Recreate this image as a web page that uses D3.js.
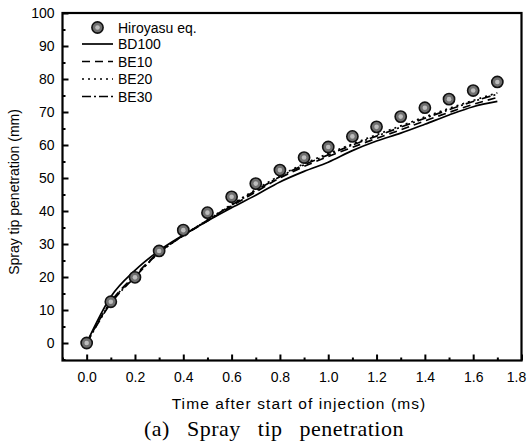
<!DOCTYPE html>
<html>
<head>
<meta charset="utf-8">
<script src="https://cdn.jsdelivr.net/npm/d3@7"></script>
<style>
  html, body { margin: 0; padding: 0; background: #fff; }
  svg { display: block; }
  text { font-family: Arial, "Liberation Sans", sans-serif; fill: #000; }
</style>
</head>
<body>
<svg id="chart" width="529" height="443"></svg>
<script>
// Time after start of injection (ms)
const times = [0, 0.1, 0.2, 0.3, 0.4, 0.5, 0.6, 0.7, 0.8, 0.9, 1.0, 1.1, 1.2, 1.3, 1.4, 1.5, 1.6, 1.7];

// Spray tip penetration (mm)
const hiroyasu = [0, 12.5, 19.9, 27.9, 34.2, 39.5, 44.3, 48.3, 52.4, 56.2, 59.4, 62.6, 65.5, 68.6, 71.3, 73.9, 76.5, 79.1];
const bd100    = [0, 14.0, 22.0, 28.0, 32.7, 37.0, 41.0, 44.8, 48.8, 52.0, 54.8, 58.3, 61.2, 63.6, 66.3, 69.1, 71.6, 73.2];
const be10     = [0, 12.5, 20.5, 27.5, 32.5, 37.0, 41.5, 45.8, 50.0, 53.5, 56.5, 59.3, 62.0, 64.6, 67.3, 69.9, 72.3, 74.4];
const be20     = [0, 12.3, 20.2, 27.3, 32.6, 37.3, 42.0, 46.5, 50.7, 54.3, 57.4, 60.3, 63.1, 65.8, 68.5, 71.1, 73.5, 75.8];
const be30     = [0, 12.0, 20.0, 27.4, 32.6, 37.2, 41.8, 46.2, 50.4, 54.0, 57.0, 60.0, 62.7, 65.4, 68.1, 70.7, 73.2, 75.4];

const xTicks = [0, 0.2, 0.4, 0.6, 0.8, 1.0, 1.2, 1.4, 1.6, 1.8];
const yTicks = [0, 10, 20, 30, 40, 50, 60, 70, 80, 90, 100];

const lineSeries = [
  { name: "BD100", values: bd100, dash: null },
  { name: "BE10",  values: be10,  dash: "8,5" },
  { name: "BE20",  values: be20,  dash: "2,4" },
  { name: "BE30",  values: be30,  dash: "9,3,2,3" }
];

const svg = d3.select("#chart");
const plot = { left: 62.5, right: 521.5, top: 13, bottom: 360.5 };

const x = d3.scaleLinear().domain([-0.1, 1.8]).range([plot.left, plot.right]);
const y = d3.scaleLinear().domain([-5.3, 100]).range([plot.bottom, plot.top]);

// Ticks pointing into the plot area
const xAxis = d3.axisBottom(x).tickValues(xTicks).tickSize(-6).tickPadding(12)
  .tickFormat(d3.format(".1f"));
const xMinor = d3.axisBottom(x).tickValues(d3.range(-0.1, 1.75, 0.2).map(v => +v.toFixed(1)))
  .tickSize(-3).tickFormat("");
const yAxis = d3.axisLeft(y).tickValues(yTicks).tickSize(-6).tickPadding(8)
  .tickFormat(d3.format("d"));
const yMinor = d3.axisLeft(y).tickValues(d3.range(-5, 100, 10)).tickSize(-3).tickFormat("");

function styleAxis(g) {
  g.select(".domain").remove();
  g.selectAll(".tick line").attr("stroke", "#000").attr("stroke-width", 2);
  g.selectAll(".tick text").attr("font-size", 14).attr("font-family", "Arial, 'Liberation Sans', sans-serif");
}

const gx = svg.append("g").attr("transform", `translate(0,${plot.bottom})`).call(xAxis).call(styleAxis);
// keep the last label inside the canvas
gx.selectAll(".tick text").filter(d => d === 1.8).attr("text-anchor", "end").attr("dx", "0.3em");
svg.append("g").attr("transform", `translate(0,${plot.bottom})`).call(xMinor).call(styleAxis);
svg.append("g").attr("transform", `translate(${plot.left},0)`).call(yAxis).call(styleAxis);
svg.append("g").attr("transform", `translate(${plot.left},0)`).call(yMinor).call(styleAxis);

// Frame
svg.append("rect")
  .attr("x", plot.left).attr("y", plot.top)
  .attr("width", plot.right - plot.left).attr("height", plot.bottom - plot.top)
  .attr("fill", "none").attr("stroke", "#000").attr("stroke-width", 2.2);

// Model curves
const line = d3.line().curve(d3.curveMonotoneX);
const lines = svg.append("g");
lineSeries.forEach(s => {
  lines.append("path")
    .datum(times.map((t, i) => [x(t), y(s.values[i])]))
    .attr("d", line)
    .attr("fill", "none")
    .attr("stroke", "#000")
    .attr("stroke-width", 1.7)
    .attr("stroke-dasharray", s.dash);
});

// Hiroyasu correlation points
function marker(g, cx, cy) {
  g.append("circle").attr("cx", cx).attr("cy", cy).attr("r", 5.6)
    .attr("fill", "#6f6f6f").attr("stroke", "#111").attr("stroke-width", 1.6);
  g.append("circle").attr("cx", cx).attr("cy", cy).attr("r", 2.3)
    .attr("fill", "#bdbdbd");
}
const pts = svg.append("g");
times.forEach((t, i) => marker(pts, x(t), y(hiroyasu[i])));

// Legend
const legend = svg.append("g");
marker(legend, 97.5, 27.5);
legend.append("text").attr("x", 118).attr("y", 32.5).attr("font-size", 14).text("Hiroyasu eq.");
lineSeries.forEach((s, i) => {
  const ly = 44 + i * 17.5;
  legend.append("line")
    .attr("x1", 82).attr("x2", 113).attr("y1", ly).attr("y2", ly)
    .attr("stroke", "#000").attr("stroke-width", 1.7)
    .attr("stroke-dasharray", s.dash);
  legend.append("text").attr("x", 118).attr("y", ly + 5).attr("font-size", 14).text(s.name);
});

// Axis titles
svg.append("text")
  .attr("x", 299).attr("y", 409)
  .attr("text-anchor", "middle").attr("font-size", 15.5)
  .attr("letter-spacing", 1.1)
  .text("Time after start of injection (ms)");

svg.append("text")
  .attr("transform", "translate(19,192) rotate(-90)")
  .attr("text-anchor", "middle").attr("font-size", 14)
  .text("Spray tip penetration (mm)");

// Caption
svg.append("text")
  .attr("x", 274).attr("y", 436)
  .attr("text-anchor", "middle")
  .attr("font-size", 22)
  .attr("letter-spacing", 0.5)
  .attr("word-spacing", 11)
  .style("font-family", "'Liberation Serif', 'Times New Roman', serif")
  .text("(a) Spray tip penetration");
</script>
</body>
</html>
